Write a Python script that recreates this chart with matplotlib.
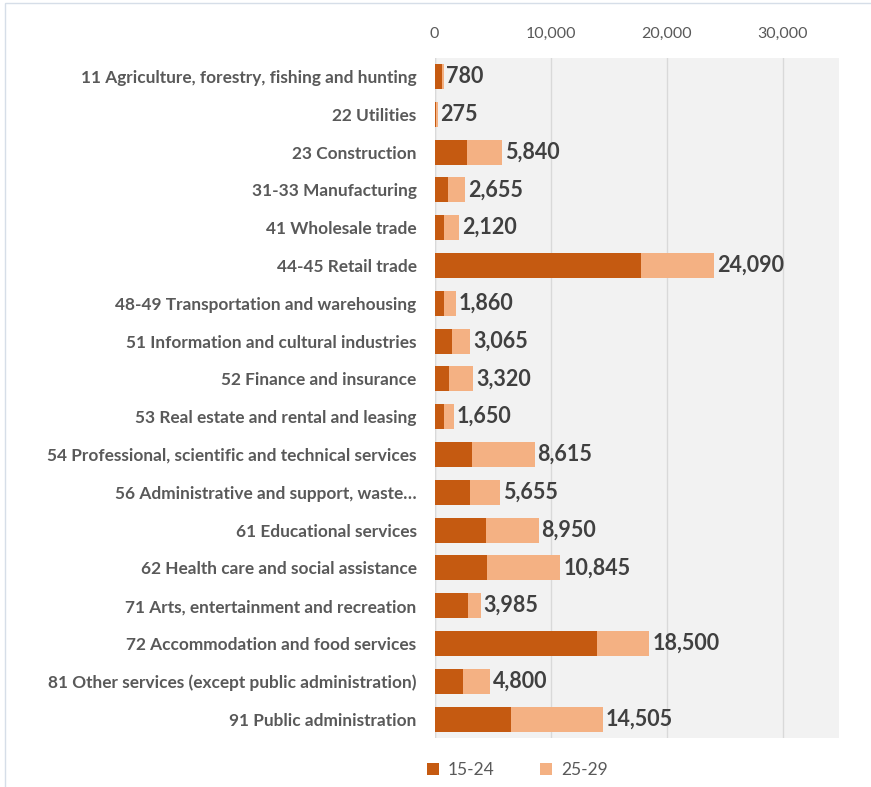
import matplotlib.pyplot as plt
from matplotlib.patches import Rectangle

plt.rcParams['font.family'] = ['Lato', 'DejaVu Sans']

# industries, top to bottom
industries = [
    "11 Agriculture, forestry, fishing and hunting",
    "22 Utilities",
    "23 Construction",
    "31-33 Manufacturing",
    "41 Wholesale trade",
    "44-45 Retail trade",
    "48-49 Transportation and warehousing",
    "51 Information and cultural industries",
    "52 Finance and insurance",
    "53 Real estate and rental and leasing",
    "54 Professional, scientific and technical services",
    "56 Administrative and support, waste\u2026",
    "61 Educational services",
    "62 Health care and social assistance",
    "71 Arts, entertainment and recreation",
    "72 Accommodation and food services",
    "81 Other services (except public administration)",
    "91 Public administration",
]
age_15_24 = [655, 80, 2790, 1125, 780, 17745, 780, 1470, 1265, 780,
             3225, 3025, 4410, 4550, 2880, 13970, 2445, 6570]
age_25_29 = [125, 195, 3050, 1530, 1340, 6345, 1080, 1595, 2055, 870,
             5390, 2630, 4540, 6295, 1105, 4530, 2355, 7935]
ticks = [0, 10000, 20000, 30000]

dark = '#C55A11'
light = '#F4B183'

fig = plt.figure(figsize=(8.71, 7.87), dpi=100)
fig.patches.append(Rectangle((5 / 871, -0.1), 1.2, 1.1 - 3 / 787,
                             transform=fig.transFigure, fill=False,
                             edgecolor='#D6DEE8', linewidth=1))
ax = fig.add_axes([0.499, 0.0623, 0.4637, 0.8646])
ax.set_facecolor('#F2F2F2')

y = list(range(len(industries)))
ax.barh(y, age_15_24, height=0.66, color=dark, label='15-24', zorder=3)
ax.barh(y, age_25_29, left=age_15_24, height=0.66, color=light,
        label='25-29', zorder=3)

for i in y:
    total = age_15_24[i] + age_25_29[i]
    ax.annotate(f"{total:,}", (total, i), xytext=(2, 0),
                textcoords='offset points', va='center', ha='left',
                fontsize=15.5, fontweight='bold', color='#404040', zorder=4)

ax.set_xlim(0, 34800)
ax.set_ylim(len(industries) - 0.5, -0.5)
ax.set_xticks(ticks)
ax.set_xticklabels([f"{t:,}" for t in ticks])
ax.xaxis.tick_top()
ax.tick_params(axis='x', length=0, pad=12, labelsize=11.5, labelcolor='#595959')
ax.set_yticks(y)
ax.set_yticklabels(industries)
ax.tick_params(axis='y', length=0, pad=13, labelsize=12.4, labelcolor='#595959')
for lbl in ax.get_yticklabels():
    lbl.set_fontweight('bold')
ax.grid(axis='x', color='#D9D9D9', linewidth=1, zorder=0)
ax.set_axisbelow(True)
for s in ax.spines.values():
    s.set_visible(False)
ax.axvline(0, color='#D9D9D9', linewidth=1, zorder=2)

leg = ax.legend(loc='upper center', bbox_to_anchor=(0.205, -0.012), ncol=2,
                frameon=False, fontsize=12.5, handlelength=0.7, handleheight=0.7,
                columnspacing=2.6, handletextpad=0.5)
for t in leg.get_texts():
    t.set_color('#595959')

fig.savefig('out.png', dpi=100)
